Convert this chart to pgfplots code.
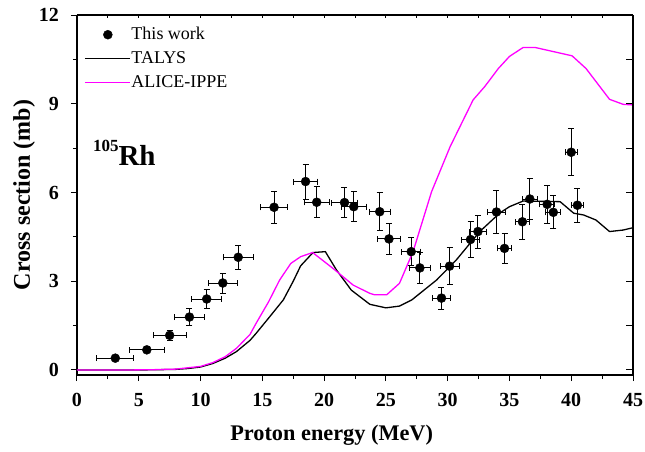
\documentclass[border=0pt]{standalone}
\usepackage{fontspec}
\setmainfont{Liberation Serif}
\usepackage{pgfplots}
\usepackage{pgfplotstable}
\pgfplotsset{compat=1.18}
\definecolor{mag}{RGB}{255,0,255}
\pgfplotsset{
  mylineleg/.style={legend image code/.code={\draw[##1] (0pt,0pt) -- (45pt,0pt);}},
  mymarkleg/.style={legend image code/.code={\fill[black] (23pt,0pt) circle (4.5pt);}},
}
\pgfplotstableread{
E s dE ds
3.1 0.40 1.5 0.06
5.65 0.68 1.4 0.10
7.5 1.17 1.35 0.17
9.1 1.79 1.23 0.29
10.5 2.40 1.2 0.31
11.8 2.94 1.2 0.34
13.05 3.81 1.2 0.41
15.95 5.50 1.12 0.54
18.5 6.37 1.0 0.59
19.4 5.67 1.0 0.52
21.65 5.66 1.08 0.52
22.4 5.52 1.0 0.50
24.5 5.35 0.85 0.65
25.25 4.43 0.94 0.52
27.05 4.0 0.78 0.48
27.75 3.45 0.88 0.52
29.5 2.43 0.74 0.37
30.15 3.51 0.77 0.62
31.85 4.41 0.7 0.62
32.45 4.68 0.7 0.56
33.95 5.34 0.7 0.72
34.6 4.11 0.54 0.51
36.05 5.01 0.6 0.6
36.65 5.78 0.6 0.68
38.05 5.60 0.6 0.64
38.55 5.33 0.6 0.56
40.0 7.36 0.5 0.80
40.5 5.57 0.5 0.58
}\expdata
\pgfplotstableread{
E s
0 0
2 0
4 0
6 0.005
8 0.02
9 0.05
10 0.1
11 0.22
12 0.4
12.9 0.62
14 1.0
14.5 1.24
15.5 1.75
16.7 2.37
17.5 3.0
18.1 3.52
19.1 3.97
20.1 4.0
21.0 3.38
22.2 2.70
23.7 2.22
25.0 2.1
26.1 2.16
27.1 2.37
29.1 3.04
30.7 3.72
32.6 4.68
34.2 5.3
35.0 5.52
36.1 5.71
39.1 5.69
40.2 5.3
41.0 5.24
42.0 5.07
43.1 4.68
44.2 4.73
45 4.81
}\talys
\pgfplotstableread{
E s
0 0
2 0
4 0
6 0.008
8 0.03
10 0.12
11 0.25
12 0.45
12.9 0.73
14 1.2
14.5 1.58
15.5 2.3
16.4 3.04
17.3 3.6
18.1 3.83
19.07 3.97
20.7 3.44
22.35 2.87
23.7 2.59
24.1 2.54
25.06 2.54
26.1 2.93
27.2 4.0
28.7 6.03
30.2 7.55
32.06 9.13
33.0 9.58
34.1 10.19
35.0 10.6
36.1 10.9
37.1 10.9
38.8 10.74
40.07 10.62
41.2 10.19
43.1 9.15
44.2 8.98
45 8.96
}\alice
\begin{document}
\begin{tikzpicture}
\path[use as bounding box] (-77pt,-76pt) rectangle (568pt,375pt);
\begin{axis}[at={(0,0)}, anchor=south west, scale only axis,
  width=556pt, height=360pt,
  xmin=0, xmax=45, ymin=-0.17, ymax=12,
  axis x line*=bottom, axis y line*=left,
  axis line style={line width=1.2pt, -},
  xtick={0,5,...,45}, minor x tick num=1,
  ytick={0,3,6,9,12}, minor y tick num=1,
  tick align=outside, major tick length=6pt, minor tick length=4pt,
  tick style={line width=1pt, black},
  /pgf/number format/assume math mode=true,
  xticklabel style={font=\bfseries\fontsize{20}{20}\selectfont, anchor=base, inner sep=0pt, yshift=-25pt},
  yticklabel style={font=\bfseries\fontsize{20}{20}\selectfont, anchor=east, inner sep=0pt, xshift=-12pt},
  xlabel={Proton energy (MeV)}, ylabel={Cross section (mb)},
  xlabel style={font=\bfseries\fontsize{22.3}{24}\selectfont, at={(axis description cs:0.458,-0.181)}, anchor=base},
  ylabel style={font=\bfseries\fontsize{24}{26}\selectfont, at={(axis description cs:-0.0953,0.5)}, anchor=center},
  clip=false,
  legend cell align=left,
  legend style={draw=none, fill=none, at={(0,1)}, anchor=north west,
    xshift=4pt, yshift=-8pt,
    font=\fontsize{18}{18}\selectfont,
    nodes={inner sep=1pt, text height=13pt, text depth=4pt},
    row sep=5pt},
]
\addplot[only marks, mark=*, mark size=4.5pt, black,
  error bars/.cd, x dir=both, x explicit, y dir=both, y explicit,
  error bar style={line width=0.9pt, black},
  error mark options={line width=0.9pt, mark size=3pt, rotate=90, black}]
  table[x=E, y=s, x error=dE, y error=ds] {\expdata};
\addlegendimage{mymarkleg}
\addplot[black, line width=1.3pt, forget plot] table[x=E, y=s] {\talys};
\addplot[mag, line width=1.3pt, forget plot] table[x=E, y=s] {\alice};
\addlegendimage{black, line width=1.3pt, mylineleg}
\addlegendimage{mag, line width=1.3pt, mylineleg}
\legend{,This work,TALYS,ALICE-IPPE}
\node[anchor=base west, inner sep=0pt, font=\bfseries\fontsize{29}{32}\selectfont] at (axis cs:1.28,6.91) {\raisebox{14pt}{\fontsize{17}{17}\selectfont 105}Rh};
\end{axis}
\begin{axis}[at={(0,0)}, anchor=south west, scale only axis,
  width=556pt, height=360pt,
  xmin=0, xmax=45, ymin=-0.17, ymax=12,
  axis x line*=top, axis y line*=right,
  axis line style={line width=1.2pt, -},
  xtick={0,5,...,45}, minor x tick num=1, ytick=\empty,
  tick align=inside, major tick length=3pt, minor tick length=3pt,
  tick style={line width=1pt, black},
  xticklabels={}]
\end{axis}
\begin{axis}[at={(0,0)}, anchor=south west, scale only axis,
  width=556pt, height=360pt,
  xmin=0, xmax=45, ymin=-0.17, ymax=12,
  axis x line*=top, axis y line*=right,
  axis line style={line width=1.2pt, -},
  xtick=\empty, ytick={0,3,6,9,12}, minor y tick num=1,
  tick align=inside, major tick length=7pt, minor tick length=7pt,
  tick style={line width=1pt, black},
  yticklabels={}]
\end{axis}
\end{tikzpicture}
\end{document}
